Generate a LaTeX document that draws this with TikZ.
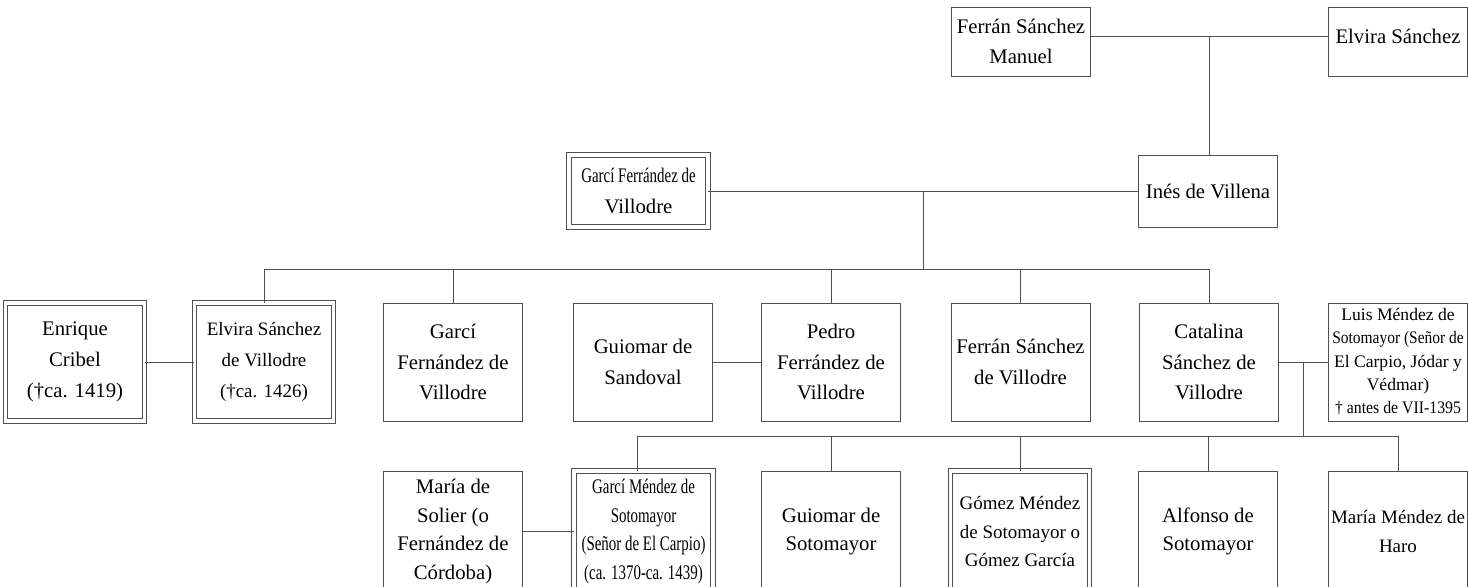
\documentclass[tikz,border=0pt]{standalone}
\usepackage{fontspec}
\setmainfont{Liberation Serif}
\usetikzlibrary{calc}
\definecolor{line-gray}{RGB}{80, 80, 80}
\newcommand{\narrowtext}[2][0.72]{\scalebox{#1}[1]{#2}}
\tikzset{
  box/.style={draw=line-gray, line width=0.5pt, align=center, inner sep=1pt, minimum width=2.78cm, font=\fontsize{11.8}{17.5}\selectfont},
  dbl/.style={box, double, double distance=0.07cm},
  row0/.style={minimum height=1.38cm},
  row1/.style={minimum height=1.44cm},
  row2/.style={minimum height=2.36cm},
  row3/.style={minimum height=2.42cm, font=\fontsize{11.8}{16.3}\selectfont},
  link/.style={draw=line-gray, line width=0.5pt}
}

\begin{document}
\begin{tikzpicture}[x=0.02cm, y=-0.02cm]
   \fill[use as bounding box, white] (0,0) rectangle (1468,587);

   \node[box,row0] (fsm) at (1021,41.5) {Ferrán Sánchez\\Manuel};
   \node[box,row0] (es) at (1398,41.5) {\raisebox{0.11cm}[\height][\depth]{Elvira Sánchez}};

   \node[dbl,row1] (gfv) at (638.5,191) {\narrowtext{Garcí Ferrández de}\\Villodre};
   \node[box,row1] (iv) at (1208,191) {Inés de Villena};

   \node[dbl,row2] (ec) at (75,362) {Enrique\\Cribel\\(†ca. 1419)};
   \node[dbl,row2,font=\fontsize{10.8}{17.5}\selectfont] (esv) at (264,362) {Elvira Sánchez\\de Villodre\\(†ca. 1426)};
   \node[box,row2] (gfv2) at (453,362) {Garcí\\Fernández de\\Villodre};
   \node[box,row2] (gs) at (643,362) {Guiomar de\\Sandoval};
   \node[box,row2] (pfv) at (831,362) {Pedro\\Ferrández de\\Villodre};
   \node[box,row2] (fsv) at (1020.5,362) {Ferrán Sánchez\\de Villodre};
   \node[box,row2] (csv) at (1209,362) {Catalina\\Sánchez de\\Villodre};
   \node[box,row2,font=\fontsize{10}{13.2}\selectfont] (lms) at (1398,362) {Luis Méndez de\\\narrowtext[0.88]{Sotomayor (Señor de}\\El Carpio, Jódar y\\Védmar)\\\narrowtext[0.9]{† antes de VII-1395}};

   \node[box,row3] (ms) at (453,531.5) {María de\\Solier (o\\Fernández de\\Córdoba)};
   \node[dbl,row3] (gms) at (643.5,531.5) {\narrowtext{Garcí Méndez de}\\\narrowtext{Sotomayor}\\\narrowtext{(Señor de El Carpio)}\\\narrowtext{(ca. 1370-ca. 1439)}};
   \node[box,row3] (gso) at (831,531.5) {Guiomar de\\Sotomayor};
   \node[dbl,row3,font=\fontsize{10.8}{16.3}\selectfont] (gmg) at (1020,531.5) {Gómez Méndez\\de Sotomayor o\\Gómez García};
   \node[box,row3] (afs) at (1208,531.5) {Alfonso de\\Sotomayor};
   \node[box,row3,font=\fontsize{10.8}{16.3}\selectfont] (mmh) at (1398,531.5) {María Méndez de\\Haro};

   \coordinate (bar1) at (0,269);
   \coordinate (bar2) at (0,436);

   \draw[link] ([yshift=0.11cm]fsm.east) -- coordinate (m0) ([yshift=0.11cm]es.west);
   \draw[link] (m0) -- (m0 |- iv.north);
   \draw[link] (gfv.east) -- coordinate (m1) (iv.west);
   \draw[link] (m1) -- (m1 |- bar1);
   \draw[link] (esv.north |- bar1) -- (csv.north |- bar1);
   \foreach \k in {esv,gfv2,pfv,fsv,csv}
      \draw[link] (\k.north) -- (\k.north |- bar1);

   \draw[link] (ec.east) -- (esv.west);
   \draw[link] (gs.east) -- (pfv.west);
   \draw[link] (csv.east) -- coordinate (m2) (lms.west);
   \draw[link] (m2) -- (m2 |- bar2);
   \draw[link] ([xshift=-0.12cm]gms.north |- bar2) -- (mmh.north |- bar2);
   \draw[link] ([xshift=-0.12cm]gms.north) -- ([xshift=-0.12cm]gms.north |- bar2);
   \foreach \k in {gso,gmg,afs,mmh}
      \draw[link] (\k.north) -- (\k.north |- bar2);
   \draw[link] (ms.east) -- (gms.west);
\end{tikzpicture}
\end{document}
